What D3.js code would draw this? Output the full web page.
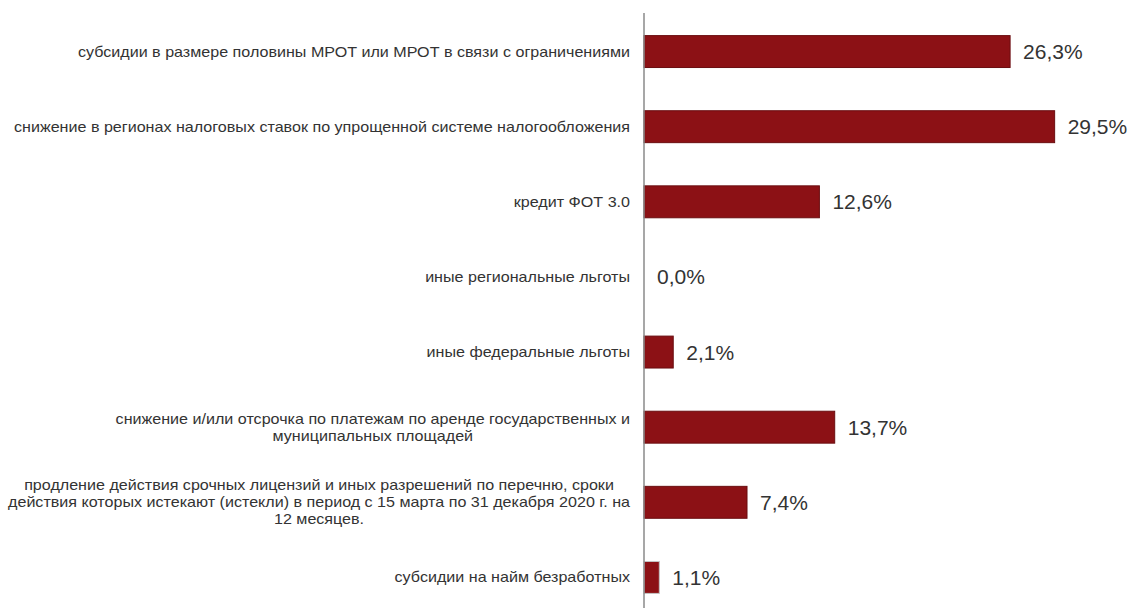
<!DOCTYPE html>
<html><head><meta charset="utf-8">
<script src="https://cdn.jsdelivr.net/npm/d3@7"></script>
<style>body{margin:0;background:#fff}svg{display:block}</style>
</head><body>
<script>
const categories = [
  "субсидии в размере половины МРОТ или МРОТ в связи с ограничениями",
  "снижение в регионах налоговых ставок по упрощенной системе налогообложения",
  "кредит ФОТ 3.0",
  "иные региональные льготы",
  "иные федеральные льготы",
  "снижение и/или отсрочка по платежам по аренде государственных и\nмуниципальных площадей",
  "продление действия срочных лицензий и иных разрешений по перечню, сроки\nдействия которых истекают (истекли) в период с 15 марта по 31 декабря 2020 г. на\n12 месяцев.",
  "субсидии на найм безработных"
];
const values = [26.3, 29.5, 12.6, 0.0, 2.1, 13.7, 7.4, 1.1];
const valueLabels = ["26,3%", "29,5%", "12,6%", "0,0%", "2,1%", "13,7%", "7,4%", "1,1%"];

const W = 1132, H = 608;
const x0 = 644;
const svg = d3.select("body").append("svg").attr("width", W).attr("height", H);

const x = d3.scaleLinear().domain([0, 30]).range([x0, x0 + 30 * 13.92]);
const y = d3.scaleBand().domain(d3.range(categories.length)).range([14, 615]).paddingInner(0.575).paddingOuter(0.2875);

svg.selectAll("rect.bar").data(values).join("rect")
  .attr("class", "bar")
  .attr("x", x(0))
  .attr("y", (d, i) => y(i))
  .attr("width", d => x(d) - x(0))
  .attr("height", y.bandwidth())
  .attr("fill", "#8c1115")
  .attr("stroke", (d, i) => i === values.length - 1 ? "#c4c4c4" : "#6a0d10")
  .attr("stroke-width", 1)
  .style("display", d => d > 0 ? null : "none");

svg.append("line").attr("x1", x0).attr("x2", x0).attr("y1", 13).attr("y2", H)
  .attr("stroke", "#8a8a8a").attr("stroke-width", 1.5);

svg.selectAll("text.val").data(values).join("text")
  .attr("class", "val")
  .attr("x", d => x(d) + 13)
  .attr("y", (d, i) => y(i) + y.bandwidth() / 2)
  .attr("dy", "0.36em")
  .attr("font-family", "Liberation Sans, Arial, sans-serif")
  .attr("font-size", 21)
  .attr("fill", "#333")
  .text((d, i) => valueLabels[i]);

const labelRight = 630, lh = 17, sx = 1.15;
categories.forEach((c, i) => {
  const lines = c.split("\n");
  const g = svg.append("g").attr("transform", `translate(${labelRight},0) scale(${sx},1)`);
  const t = g.append("text")
    .attr("font-family", "Liberation Sans, Arial, sans-serif")
    .attr("font-size", 14)
    .attr("fill", "#333")
    .attr("text-anchor", "middle");
  const cy = y(i) + y.bandwidth() / 2;
  lines.forEach((l, k) => {
    t.append("tspan").attr("x", 0).attr("y", cy + (k - (lines.length - 1) / 2) * lh).attr("dy", "0.36em").text(l);
  });
  let maxW = 0;
  t.selectAll("tspan").each(function () { maxW = Math.max(maxW, this.getComputedTextLength()); });
  t.selectAll("tspan").attr("x", -maxW / 2);
});
</script>
</body></html>
